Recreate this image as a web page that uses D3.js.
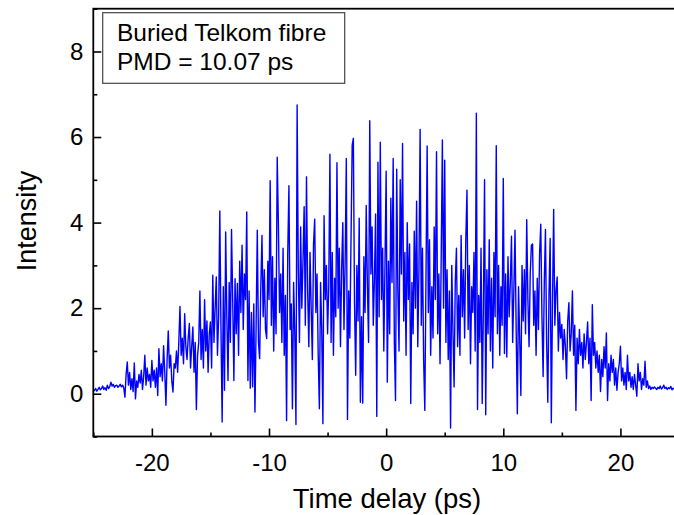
<!DOCTYPE html>
<html>
<head>
<meta charset="utf-8">
<script src="https://cdn.jsdelivr.net/npm/d3@7"></script>
<style>
  body { margin: 0; background: #fff; }
  text { font-family: Arial, "Liberation Sans", sans-serif; }
</style>
</head>
<body>
<svg id="chart"></svg>
<script>
// interferogram samples (one row = 1 ps)
var startDelay = -25;
var stepDelay = 0.1;
var intensity = [
  0.05,0.08,0.12,0.06,0.1,0.15,0.09,0.12,0.18,0.1,
  0.14,0.08,0.2,0.12,0.16,0.27,0.18,0.22,0.15,0.19,
  0.2,0.15,0.18,0.22,0.16,0.2,0.14,-0.08,0.45,0.74,
  0.2,0.5,0.1,0.35,0.05,0.72,-0.12,0.3,0.15,0.45,
  0.25,0.55,0.1,0.4,0.9,0.2,0.6,0.3,0.45,0.15,
  0.78,0.3,0.55,0.15,0.6,-0.04,1.05,0.4,0.7,0.3,
  1.12,0.5,-0.27,0.8,1.47,0.6,0.9,0.3,0.04,0.7,
  0.6,1.0,0.5,1.2,2.04,0.9,1.3,0.7,1.87,1.1,
  0.8,1.3,1.64,0.6,1.1,1.56,0.5,1.2,-0.37,0.9,
  1.2,2.4,0.8,1.5,0.6,2.2,1.0,1.7,0.5,1.4,
  1.68,0.6,2.77,1.2,2.0,2.73,0.9,1.8,4.27,1.5,
  -0.66,2.5,0.08,3.78,1.8,0.31,2.6,1.2,3.84,2.2,
  0.31,2.69,1.4,2.58,0.9,3.1,1.9,3.47,1.5,2.8,
  2.2,4.25,0.31,2.4,0.13,1.9,0.16,2.1,-0.43,1.6,
  3.82,1.2,0.82,2.5,3.7,1.8,2.9,1.5,1.29,3.1,
  2.2,4.98,1.6,3.2,1.0,2.7,1.4,5.53,3.98,1.9,
  2.8,1.2,3.4,0.9,2.3,-0.63,3.3,4.86,1.5,2.1,
  -0.35,2.6,1.4,-0.72,6.75,2.9,1.2,3.9,2.0,3.1,
  4.37,1.6,5.07,2.4,1.1,3.3,2.0,0.8,3.5,4.08,
  1.9,2.8,0.9,-0.35,2.6,1.5,-0.7,4.16,2.2,3.0,
  1.4,2.5,5.6,1.2,3.3,0.9,2.7,1.8,5.4,2.0,
  3.4,1.1,2.9,4.0,1.5,3.1,5.5,-0.6,2.4,1.3,
  3.6,5.81,5.97,2.1,0.43,3.0,1.7,4.1,-0.2,1.8,
  -0.22,3.2,1.9,4.4,2.5,1.2,6.38,2.8,3.9,1.6,
  2.7,4.2,-0.53,5.41,1.8,5.88,2.2,3.4,1.0,3.0,
  5.2,0.27,3.1,1.4,4.57,2.6,5.5,1.2,-0.16,5.25,
  2.4,1.0,5.0,2.8,5.85,1.7,3.3,0.9,4.0,2.2,
  3.5,-0.23,2.6,1.4,3.8,2.0,4.5,1.1,2.9,6.18,
  1.6,3.4,0.8,-0.39,2.7,5.79,1.9,3.6,0.9,2.5,
  1.3,3.9,2.2,5.66,1.4,2.8,0.7,3.2,5.93,2.0,
  5.46,1.2,2.9,0.8,2.4,-0.8,3.0,1.5,0.16,2.6,
  3.4,1.1,2.3,0.9,3.7,1.8,2.9,1.3,3.6,4.76,
  1.5,3.0,0.7,2.5,1.9,3.3,1.0,6.56,-0.37,2.3,
  1.2,3.4,-0.23,2.0,5.0,-0.49,2.9,1.4,3.6,1.0,
  2.7,0.6,3.3,1.8,5.8,1.4,3.0,0.9,2.5,1.6,
  5.03,0.94,2.8,0.86,3.2,1.8,2.6,3.68,1.2,2.4,
  3.82,1.5,-0.47,2.5,1.3,-0.04,3.0,1.7,2.9,1.4,
  4.07,2.2,1.1,2.8,3.47,3.5,1.6,2.4,0.9,2.7,
  1.5,3.28,3.96,1.8,0.4,2.6,3.84,1.2,-0.2,2.3,
  3.63,-0.68,2.1,4.31,1.6,2.4,2.73,1.0,1.9,1.3,
  1.62,0.8,1.5,1.1,0.35,1.7,2.13,1.0,1.4,2.4,
  0.9,1.6,-0.39,1.3,0.7,1.5,0.9,1.2,0.6,1.4,
  0.8,1.2,1.68,0.7,1.3,-0.16,2.08,0.9,1.2,0.6,
  1.0,0.5,0.9,0.05,0.8,0.4,1.1,0.6,1.42,-0.16,
  0.7,0.3,0.9,0.5,0.8,0.2,0.6,0.08,0.5,0.7,
  1.11,0.3,0.6,0.2,0.5,0.1,0.9,0.3,0.5,0.15,
  0.4,0.1,0.45,0.2,-0.06,0.7,0.3,0.5,0.1,0.35,
  0.2,0.76,0.15,0.3,0.12,0.18,0.1,0.15,0.12,0.16,
  0.13,0.1,0.15,0.12,0.18,0.11,0.14,0.2,0.12,0.15,
  0.1,0.14,0.12,0.17,0.09,0.13,0.11,0.15,0.08,0.12,
  0.1
];
var xDomain = [-25, 25];
var yDomain = [-1, 9];
var xMajor = [-20, -10, 0, 10, 20];
var xMinor = [-25, -15, -5, 5, 15, 25];
var yMajor = [0, 2, 4, 6, 8];
var yMinor = [-1, 1, 3, 5, 7, 9];
var legendLines = ["Buried Telkom fibre", "PMD = 10.07 ps"];
var xTitle = "Time delay (ps)";
var yTitle = "Intensity";

var W = 674, H = 515;
// plot box; right edge falls just past the window like in the reference
var plotL = 93.3, plotR = 679, plotT = 8.7, plotB = 436.5;

var svg = d3.select("#chart").attr("width", W).attr("height", H);

var x = d3.scaleLinear().domain(xDomain).range([plotL, plotR]);
var y = d3.scaleLinear().domain(yDomain).range([plotB, plotT]);

var points = intensity.map(function(v, i) {
  return { t: Math.round((startDelay + i * stepDelay) * 10) / 10, v: v };
});

svg.append("clipPath").attr("id", "plotclip")
  .append("rect")
  .attr("x", plotL).attr("y", plotT)
  .attr("width", plotR - plotL).attr("height", plotB - plotT);

var line = d3.line()
  .x(function(d) { return x(d.t); })
  .y(function(d) { return y(d.v); });

svg.append("path")
  .datum(points)
  .attr("clip-path", "url(#plotclip)")
  .attr("fill", "none")
  .attr("stroke", "#0000ff")
  .attr("stroke-width", 1.4)
  .attr("stroke-linejoin", "round")
  .attr("d", line);

// frame
svg.append("rect")
  .attr("x", plotL).attr("y", plotT)
  .attr("width", plotR - plotL).attr("height", plotB - plotT)
  .attr("fill", "none")
  .attr("stroke", "#000")
  .attr("stroke-width", 1.8);

// axes, ticks pointing inward
var gxMinor = svg.append("g")
  .attr("transform", "translate(0," + plotB + ")")
  .call(d3.axisBottom(x).tickValues(xMinor).tickSize(-4).tickFormat(""));
var gx = svg.append("g")
  .attr("transform", "translate(0," + plotB + ")")
  .call(d3.axisBottom(x).tickValues(xMajor).tickSize(-8).tickPadding(17)
    .tickFormat(d3.format("d")));

var gyMinor = svg.append("g")
  .attr("transform", "translate(" + plotL + ",0)")
  .call(d3.axisLeft(y).tickValues(yMinor).tickSize(-4).tickFormat(""));
var gy = svg.append("g")
  .attr("transform", "translate(" + plotL + ",0)")
  .call(d3.axisLeft(y).tickValues(yMajor).tickSize(-8).tickPadding(10)
    .tickFormat(d3.format("d")));

[gx, gxMinor, gy, gyMinor].forEach(function(g) {
  g.select(".domain").remove();
  g.selectAll(".tick line").attr("stroke", "#000").attr("stroke-width", 1.6);
  g.selectAll("text").attr("font-family", "Arial, 'Liberation Sans', sans-serif")
    .attr("font-size", 24).attr("fill", "#000");
});
gx.selectAll("text").text(function(d) { return d < 0 ? "-" + Math.abs(d) : d; });

// axis titles
svg.append("text")
  .attr("x", 387)
  .attr("y", 508)
  .attr("text-anchor", "middle")
  .attr("font-size", 27.5)
  .text(xTitle);

svg.append("text")
  .attr("transform", "translate(36,221) rotate(-90)")
  .attr("text-anchor", "middle")
  .attr("font-size", 27)
  .text(yTitle);

// legend box
var legend = svg.append("g");
legend.append("rect")
  .attr("x", 102.7).attr("y", 12.7)
  .attr("width", 242).attr("height", 70.6)
  .attr("fill", "#fff")
  .attr("stroke", "#444")
  .attr("stroke-width", 1.2);
legend.selectAll("text.leg")
  .data(legendLines)
  .enter().append("text")
  .attr("class", "leg")
  .attr("x", 117)
  .attr("y", function(d, i) { return 41 + i * 28.5; })
  .attr("font-size", 24.5)
  .text(function(d) { return d; });
</script>
</body>
</html>
